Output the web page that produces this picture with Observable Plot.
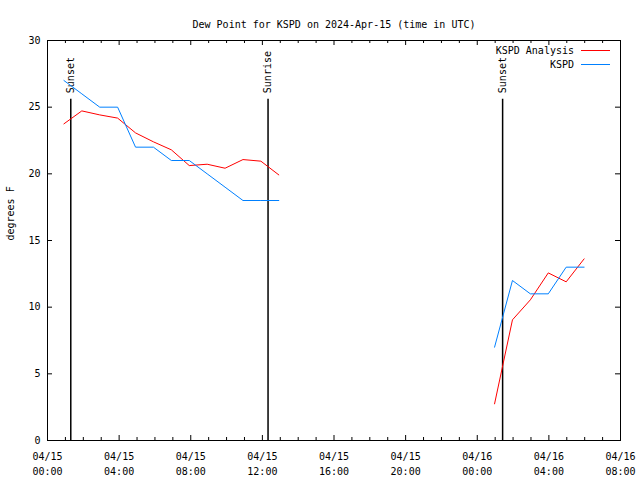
<!DOCTYPE html>
<html><head><meta charset="utf-8">
<script src="https://cdn.jsdelivr.net/npm/d3@7"></script>
<script src="https://cdn.jsdelivr.net/npm/@observablehq/plot@0.6"></script>
<style>
body{margin:0;background:#fff;}
#wrap{position:relative;width:640px;height:480px;font-family:"DejaVu Sans Mono",monospace;font-size:10px;color:#000;}
#legend{position:absolute;top:44px;right:30px;line-height:13.5px;}
#legend .row{display:flex;align-items:center;justify-content:flex-end;}
#legend .sw{display:inline-block;width:29px;height:0;border-top:1px solid;margin-left:7px;}
</style></head><body><div id="wrap"><div id="legend"></div></div>
<script>
const title = "Dew Point for KSPD on 2024-Apr-15 (time in UTC)";
const yLabel = "degrees F";
const seriesNames = ["KSPD Analysis", "KSPD"];
const seriesColors = ["#ff0000", "#0080ff"];

// first block of hours (UTC)
const times1 = ["2024-04-15T00:55Z","2024-04-15T01:55Z","2024-04-15T02:55Z","2024-04-15T03:55Z","2024-04-15T04:55Z","2024-04-15T05:55Z","2024-04-15T06:55Z","2024-04-15T07:55Z","2024-04-15T08:55Z","2024-04-15T09:55Z","2024-04-15T10:55Z","2024-04-15T11:55Z","2024-04-15T12:55Z"];
const analysis1 = [23.75, 24.72, 24.42, 24.18, 23.07, 22.4, 21.8, 20.62, 20.72, 20.42, 21.07, 20.95, 19.92];
const obs1 = [27, 26, 25, 25, 22, 22, 21, 21, 20, 19, 18, 18, 18];

// second block of hours (UTC)
const times2 = ["2024-04-16T00:58Z","2024-04-16T01:58Z","2024-04-16T02:58Z","2024-04-16T03:58Z","2024-04-16T04:58Z","2024-04-16T05:58Z"];
const analysis2 = [2.75, 9.05, 10.55, 12.57, 11.9, 13.62];
const obs2 = [7, 12, 11, 11, 13, 13];

const sunLabels = ["Sunset", "Sunrise", "Sunset"];
const sunTimes = ["2024-04-15T01:18Z", "2024-04-15T12:19Z", "2024-04-16T01:25Z"];

const xDomain = ["2024-04-15T00:00Z", "2024-04-16T08:00Z"];
const xTickTimes = ["2024-04-15T00:00Z","2024-04-15T04:00Z","2024-04-15T08:00Z","2024-04-15T12:00Z","2024-04-15T16:00Z","2024-04-15T20:00Z","2024-04-16T00:00Z","2024-04-16T04:00Z","2024-04-16T08:00Z"];
const yTicks = [0, 5, 10, 15, 20, 25, 30];
const yDomain = [0, 30];
const sunLineTop = 25.6;

const rows = [];
function add(times, vals, name, seg) {
  times.forEach((t, i) => rows.push({time: new Date(t), value: vals[i], series: name, seg: name + "-" + seg}));
}
add(times1, analysis1, seriesNames[0], 1);
add(times2, analysis2, seriesNames[0], 2);
add(times1, obs1, seriesNames[1], 1);
add(times2, obs2, seriesNames[1], 2);
const sunRows = sunLabels.map((l, i) => ({label: l, time: new Date(sunTimes[i])}));

const x0 = new Date(xDomain[0]), x1 = new Date(xDomain[1]);
const majorTicks = xTickTimes.map(t => new Date(t));
const minorTicks = d3.utcHour.range(x0, x1).filter(d => d.getUTCHours() % 4 !== 0);
const fmt = d3.utcFormat("%m/%d\n%H:%M");

const W = 640, H = 480, mL = 47, mR = 20, mT = 40, mB = 40;
const fw = W - mL - mR, fh = H - mT - mB;

const chart = Plot.plot({
  width: W, height: H,
  marginLeft: mL, marginRight: mR, marginTop: mT, marginBottom: mB,
  style: {fontFamily: '"DejaVu Sans Mono", monospace', fontSize: "10px", color: "#000", background: "#fff", overflow: "visible"},
  x: {type: "utc", domain: [x0, x1], axis: null},
  y: {domain: yDomain, axis: null},
  color: {domain: seriesNames, range: seriesColors},
  marks: [
    // x ticks (inside, bottom and top)
    Plot.tickX(majorTicks, {x: d => d, insetTop: fh - 5, stroke: "#000"}),
    Plot.tickX(majorTicks, {x: d => d, insetBottom: fh - 5, stroke: "#000"}),
    Plot.tickX(minorTicks, {x: d => d, insetTop: fh - 3, stroke: "#000"}),
    Plot.tickX(minorTicks, {x: d => d, insetBottom: fh - 3, stroke: "#000"}),
    // y ticks (inside, left and right)
    Plot.tickY(yTicks, {y: d => d, insetRight: fw - 5, stroke: "#000"}),
    Plot.tickY(yTicks, {y: d => d, insetLeft: fw - 5, stroke: "#000"}),
    // tick labels
    Plot.text(majorTicks, {x: d => d, frameAnchor: "bottom", dy: 9, lineAnchor: "top", lineHeight: 1.5, text: d => fmt(d)}),
    Plot.text(yTicks, {y: d => d, frameAnchor: "left", dx: -7, textAnchor: "end", text: d => String(d)}),
    // axis label and title
    Plot.text([yLabel], {frameAnchor: "left", dx: -37, rotate: -90, text: d => d}),
    Plot.text([title], {frameAnchor: "top", dy: -20, text: d => d}),
    // sunrise / sunset markers
    Plot.ruleX(sunRows, {x: "time", y1: yDomain[0], y2: sunLineTop, stroke: "#000", strokeWidth: 1.5}),
    Plot.text(sunRows, {x: "time", y: sunLineTop, text: "label", rotate: -90, textAnchor: "start", dy: -6}),
    // data
    Plot.line(rows, {x: "time", y: "value", z: "seg", stroke: "series", strokeWidth: 1}),
    Plot.frame({stroke: "#000"})
  ]
});
document.getElementById("wrap").prepend(chart);

const legend = document.getElementById("legend");
seriesNames.forEach((n, i) => {
  const r = document.createElement("div");
  r.className = "row";
  const t = document.createElement("span");
  t.textContent = n;
  const s = document.createElement("span");
  s.className = "sw";
  s.style.borderColor = seriesColors[i];
  r.append(t, s);
  legend.append(r);
});
</script>
</body></html>
